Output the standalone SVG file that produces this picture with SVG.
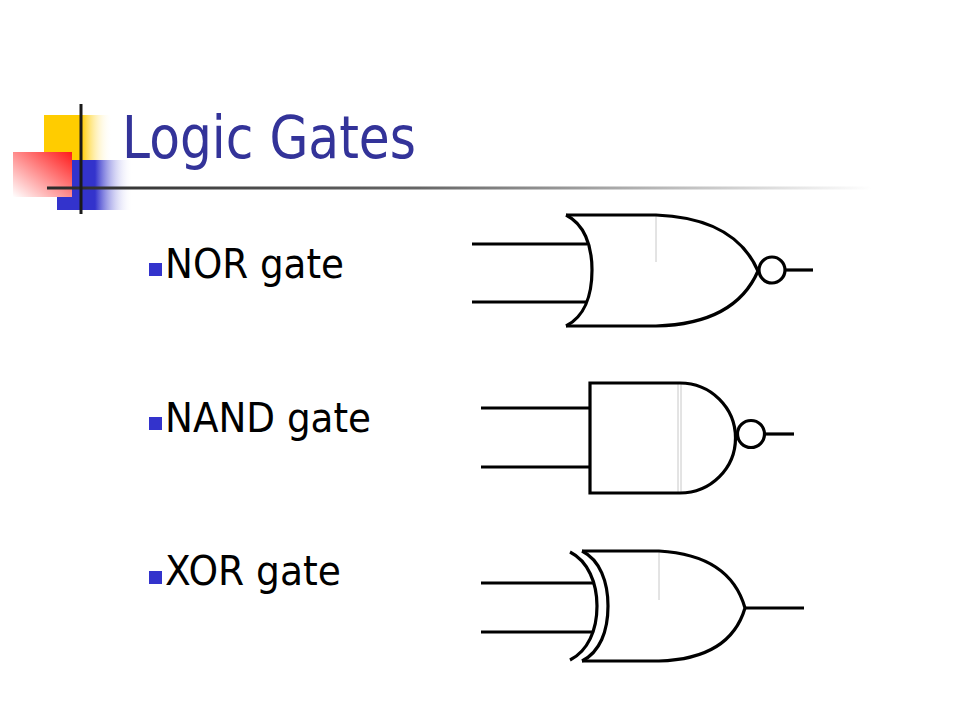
<svg xmlns="http://www.w3.org/2000/svg" width="960" height="720" viewBox="0 0 960 720">
  <defs>
    <linearGradient id="gYellow" x1="0" y1="0" x2="1" y2="0">
      <stop offset="0" stop-color="#FFCC00"/>
      <stop offset="0.55" stop-color="#FFCC00"/>
      <stop offset="1" stop-color="#FFFFFF" stop-opacity="0"/>
    </linearGradient>
    <linearGradient id="gBlue" x1="0" y1="0" x2="1" y2="0">
      <stop offset="0" stop-color="#3333CC"/>
      <stop offset="0.5" stop-color="#3333CC"/>
      <stop offset="1" stop-color="#FFFFFF" stop-opacity="0"/>
    </linearGradient>
    <linearGradient id="gRed" x1="1" y1="0" x2="0" y2="1">
      <stop offset="0" stop-color="#FF1A1A"/>
      <stop offset="1" stop-color="#FFFFFF"/>
    </linearGradient>
    <linearGradient id="gLine" x1="0" y1="0" x2="1" y2="0">
      <stop offset="0" stop-color="#2a2a2a"/>
      <stop offset="0.45" stop-color="#666666"/>
      <stop offset="1" stop-color="#FFFFFF"/>
    </linearGradient>
    <style>
      .title { font-family: "DejaVu Sans", Verdana, sans-serif; font-size: 58px; fill: #333399; }
      .item { font-family: "DejaVu Sans", Verdana, sans-serif; font-size: 41px; fill: #000000; }
      .bullet { fill: #3333CC; }
      .gate { fill: none; stroke: #000000; stroke-width: 3.2; stroke-linecap: butt; }
      .wire { fill: none; stroke: #000000; stroke-width: 3.2; }
      .ghost { fill: none; stroke: #C8C8C8; stroke-width: 1; }
    </style>
  </defs>
  <rect width="960" height="720" fill="#FFFFFF"/>

  <!-- title decoration -->
  <g id="decoration">
    <rect x="44" y="115" width="68" height="45" fill="url(#gYellow)"/>
    <rect x="57" y="160" width="76" height="50" fill="url(#gBlue)"/>
    <rect x="13" y="152" width="59" height="45" fill="url(#gRed)"/>
    <rect x="47" y="186.5" width="825" height="3" fill="url(#gLine)"/>
    <line x1="81" y1="104" x2="81" y2="214" stroke="#1a1a1a" stroke-width="3"/>
  </g>

  <g id="title">
    <text class="title" x="122" y="158" textLength="294" lengthAdjust="spacingAndGlyphs">Logic Gates</text>
  </g>

  <g id="labels">
    <rect class="bullet" x="149" y="263" width="13" height="13"/>
    <text class="item" x="165" y="278" textLength="179" lengthAdjust="spacingAndGlyphs">NOR gate</text>
    <rect class="bullet" x="149" y="417" width="13" height="13"/>
    <text class="item" x="165" y="432" textLength="206" lengthAdjust="spacingAndGlyphs">NAND gate</text>
    <rect class="bullet" x="149" y="571" width="13" height="13"/>
    <text class="item" x="165" y="585" textLength="176" lengthAdjust="spacingAndGlyphs">XOR gate</text>
  </g>

  <g id="connectors">
    <!-- NOR wires -->
    <line class="wire" x1="472" y1="244" x2="587" y2="244"/>
    <line class="wire" x1="472" y1="302" x2="587" y2="302"/>
    <line class="wire" x1="785" y1="270" x2="813" y2="270"/>
    <!-- NAND wires -->
    <line class="wire" x1="481" y1="408" x2="590" y2="408"/>
    <line class="wire" x1="481" y1="467" x2="590" y2="467"/>
    <line class="wire" x1="765" y1="434" x2="794" y2="434"/>
    <!-- XOR wires -->
    <line class="wire" x1="481" y1="583" x2="593" y2="583"/>
    <line class="wire" x1="481" y1="632" x2="593" y2="632"/>
    <line class="wire" x1="745" y1="608" x2="804" y2="608"/>
  </g>

  <g id="nor-gate">
    <line class="ghost" x1="656" y1="216" x2="656" y2="262"/>
    <path class="gate" d="M566,215 C584,224 592,245 592,270 C592,296 584,317 566,326"/>
    <path class="gate" d="M566,215 L656,215 Q735,218 758,271 Q735,324 656,326 L566,326"/>
    <circle class="gate" cx="772" cy="270" r="13"/>
  </g>

  <g id="nand-gate">
    <line class="ghost" x1="678" y1="384" x2="678" y2="492"/>
    <line class="ghost" x1="681" y1="384" x2="681" y2="492"/>
    <path class="gate" d="M680,383 L590,383 L590,493 L680,493 A55.5,55 0 0 0 680,383 Z"/>
    <circle class="gate" cx="751" cy="434" r="13.5"/>
  </g>

  <g id="xor-gate">
    <line class="ghost" x1="659" y1="552" x2="659" y2="600"/>
    <path class="gate" d="M570,552 C588,561 597,583 597,606 C597,630 588,651 570,660"/>
    <path class="gate" d="M582,551 C600,560 608,582 608,606 C608,631 600,652 582,661"/>
    <path class="gate" d="M582,551 L659,551 Q730,555 745,608 Q730,659 659,661 L582,661"/>
  </g>
</svg>
